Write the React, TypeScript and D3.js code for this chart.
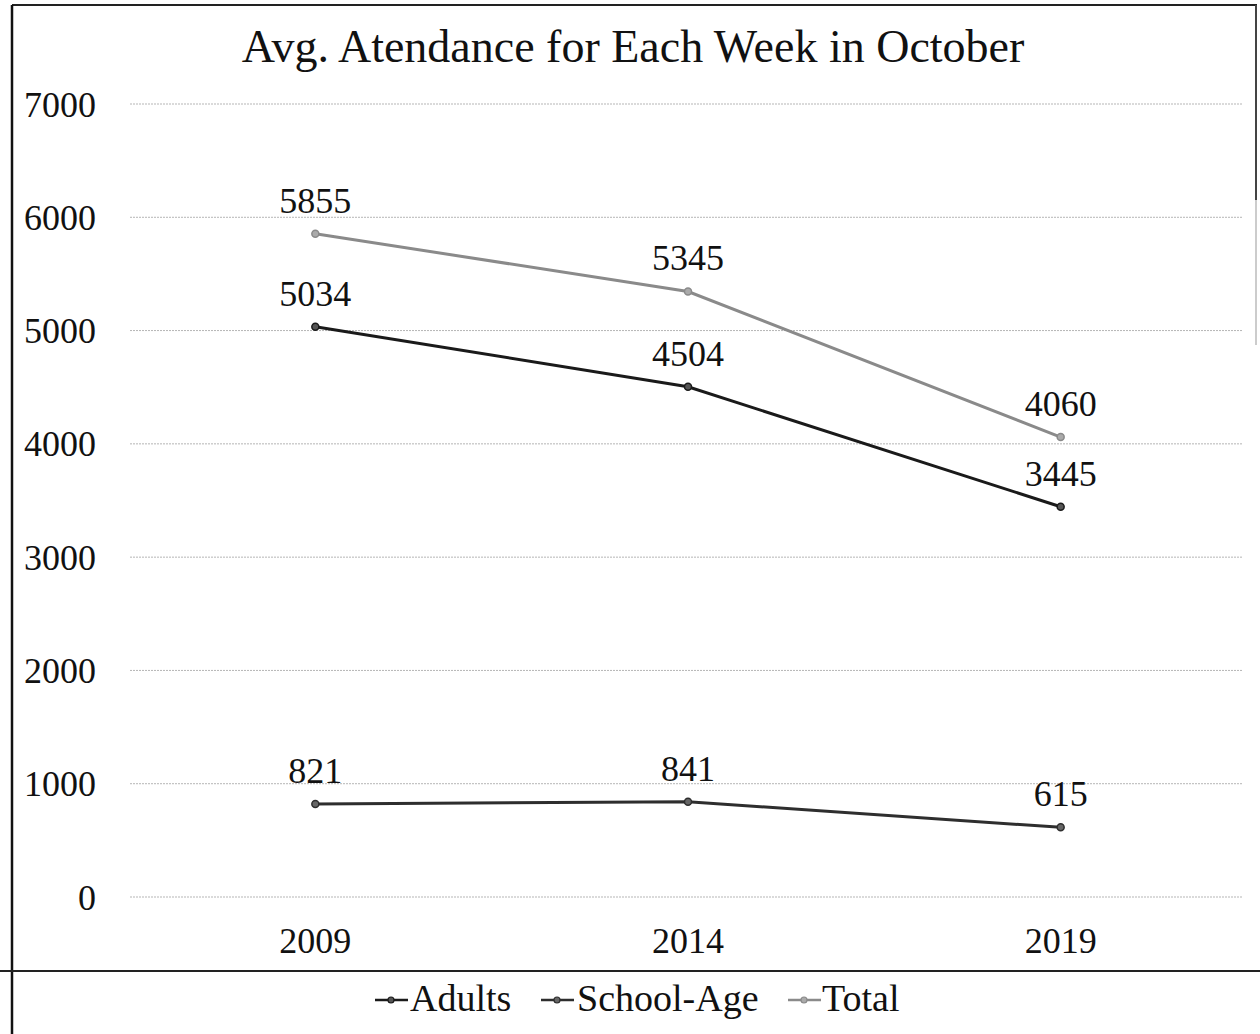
import React from "react";
import * as d3 from "d3";

const years = ["2009", "2014", "2019"];
const adults = [5034, 4504, 3445];
const schoolAge = [821, 841, 615];
const total = [5855, 5345, 4060];
const yTicks = [0, 1000, 2000, 3000, 4000, 5000, 6000, 7000];
const seriesNames = ["Adults", "School-Age", "Total"];
const titleText = "Avg. Atendance for Each Week in October";

const W = 1260;
const H = 1034;
const FONT = "'Liberation Serif', 'Times New Roman', serif";

export default function App() {
  const x = d3.scaleBand<string>().domain(years).range([129, 1247]).padding(0);
  const y = d3.scaleLinear().domain([0, 7000]).range([897, 104]);
  const cx = (d: string) => (x(d) ?? 0) + x.bandwidth() / 2;

  const series = [
    { name: seriesNames[0], values: adults, color: "#1a1a1a", width: 3, mfill: "#555" },
    { name: seriesNames[1], values: schoolAge, color: "#2e2e2e", width: 3, mfill: "#666" },
    { name: seriesNames[2], values: total, color: "#8a8a8a", width: 3, mfill: "#aaa" },
  ];

  const line = d3
    .line<number>()
    .x((_, i) => cx(years[i]))
    .y((v) => y(v));

  const legendItems = [
    { lx: 375, tx: 410 },
    { lx: 541, tx: 577 },
    { lx: 788, tx: 822 },
  ];

  return (
    <svg
      width={W}
      height={H}
      style={{ position: "fixed", left: 0, top: 0, background: "#fff" }}
      fontFamily={FONT}
    >
      <rect x={0} y={0} width={W} height={H} fill="#fff" />
      {/* frame */}
      <line x1={12} y1={5} x2={1257} y2={5} stroke="#222" strokeWidth={2} />
      <line x1={12} y1={5} x2={12} y2={H} stroke="#111" strokeWidth={2.5} />
      <line x1={1256} y1={5} x2={1256} y2={200} stroke="#444" strokeWidth={2} />
      <line x1={1256} y1={200} x2={1256} y2={345} stroke="#ccc" strokeWidth={2} />
      <line x1={0} y1={971} x2={W} y2={971} stroke="#222" strokeWidth={2} />

      {/* title */}
      <text x={633} y={62} textAnchor="middle" fontSize={46} fill="#111">
        {titleText}
      </text>

      {/* gridlines + y labels */}
      {yTicks.map((t) => (
        <g key={t}>
          <line
            x1={130}
            x2={1242}
            y1={y(t)}
            y2={y(t)}
            stroke="#b5b5b5"
            strokeWidth={1}
            strokeDasharray="2 1"
          />
          <text
            x={96}
            y={y(t)}
            dy="0.35em"
            textAnchor="end"
            fontSize={36}
            fill="#111"
          >
            {t}
          </text>
        </g>
      ))}

      {/* x labels */}
      {years.map((yr) => (
        <text key={yr} x={cx(yr)} y={953} textAnchor="middle" fontSize={36} fill="#111">
          {yr}
        </text>
      ))}

      {/* series */}
      {series.map((s) => (
        <g key={s.name}>
          <path d={line(s.values) ?? ""} fill="none" stroke={s.color} strokeWidth={s.width} />
          {s.values.map((v, i) => (
            <circle
              key={i}
              cx={cx(years[i])}
              cy={y(v)}
              r={3.5}
              fill={s.mfill}
              stroke={s.color}
              strokeWidth={1.5}
            />
          ))}
          {s.values.map((v, i) => (
            <text
              key={"l" + i}
              x={cx(years[i])}
              y={y(v) - 21}
              textAnchor="middle"
              fontSize={36}
              fill="#111"
            >
              {v}
            </text>
          ))}
        </g>
      ))}

      {/* legend */}
      {series.map((s, i) => (
        <g key={"lg" + s.name}>
          <line
            x1={legendItems[i].lx}
            x2={legendItems[i].lx + 33}
            y1={1000}
            y2={1000}
            stroke={s.color}
            strokeWidth={2.5}
          />
          <circle
            cx={legendItems[i].lx + 16}
            cy={1000}
            r={3}
            fill={s.mfill}
            stroke={s.color}
            strokeWidth={1.2}
          />
          <text x={legendItems[i].tx} y={1011} fontSize={38} fill="#111">
            {s.name}
          </text>
        </g>
      ))}
    </svg>
  );
}
